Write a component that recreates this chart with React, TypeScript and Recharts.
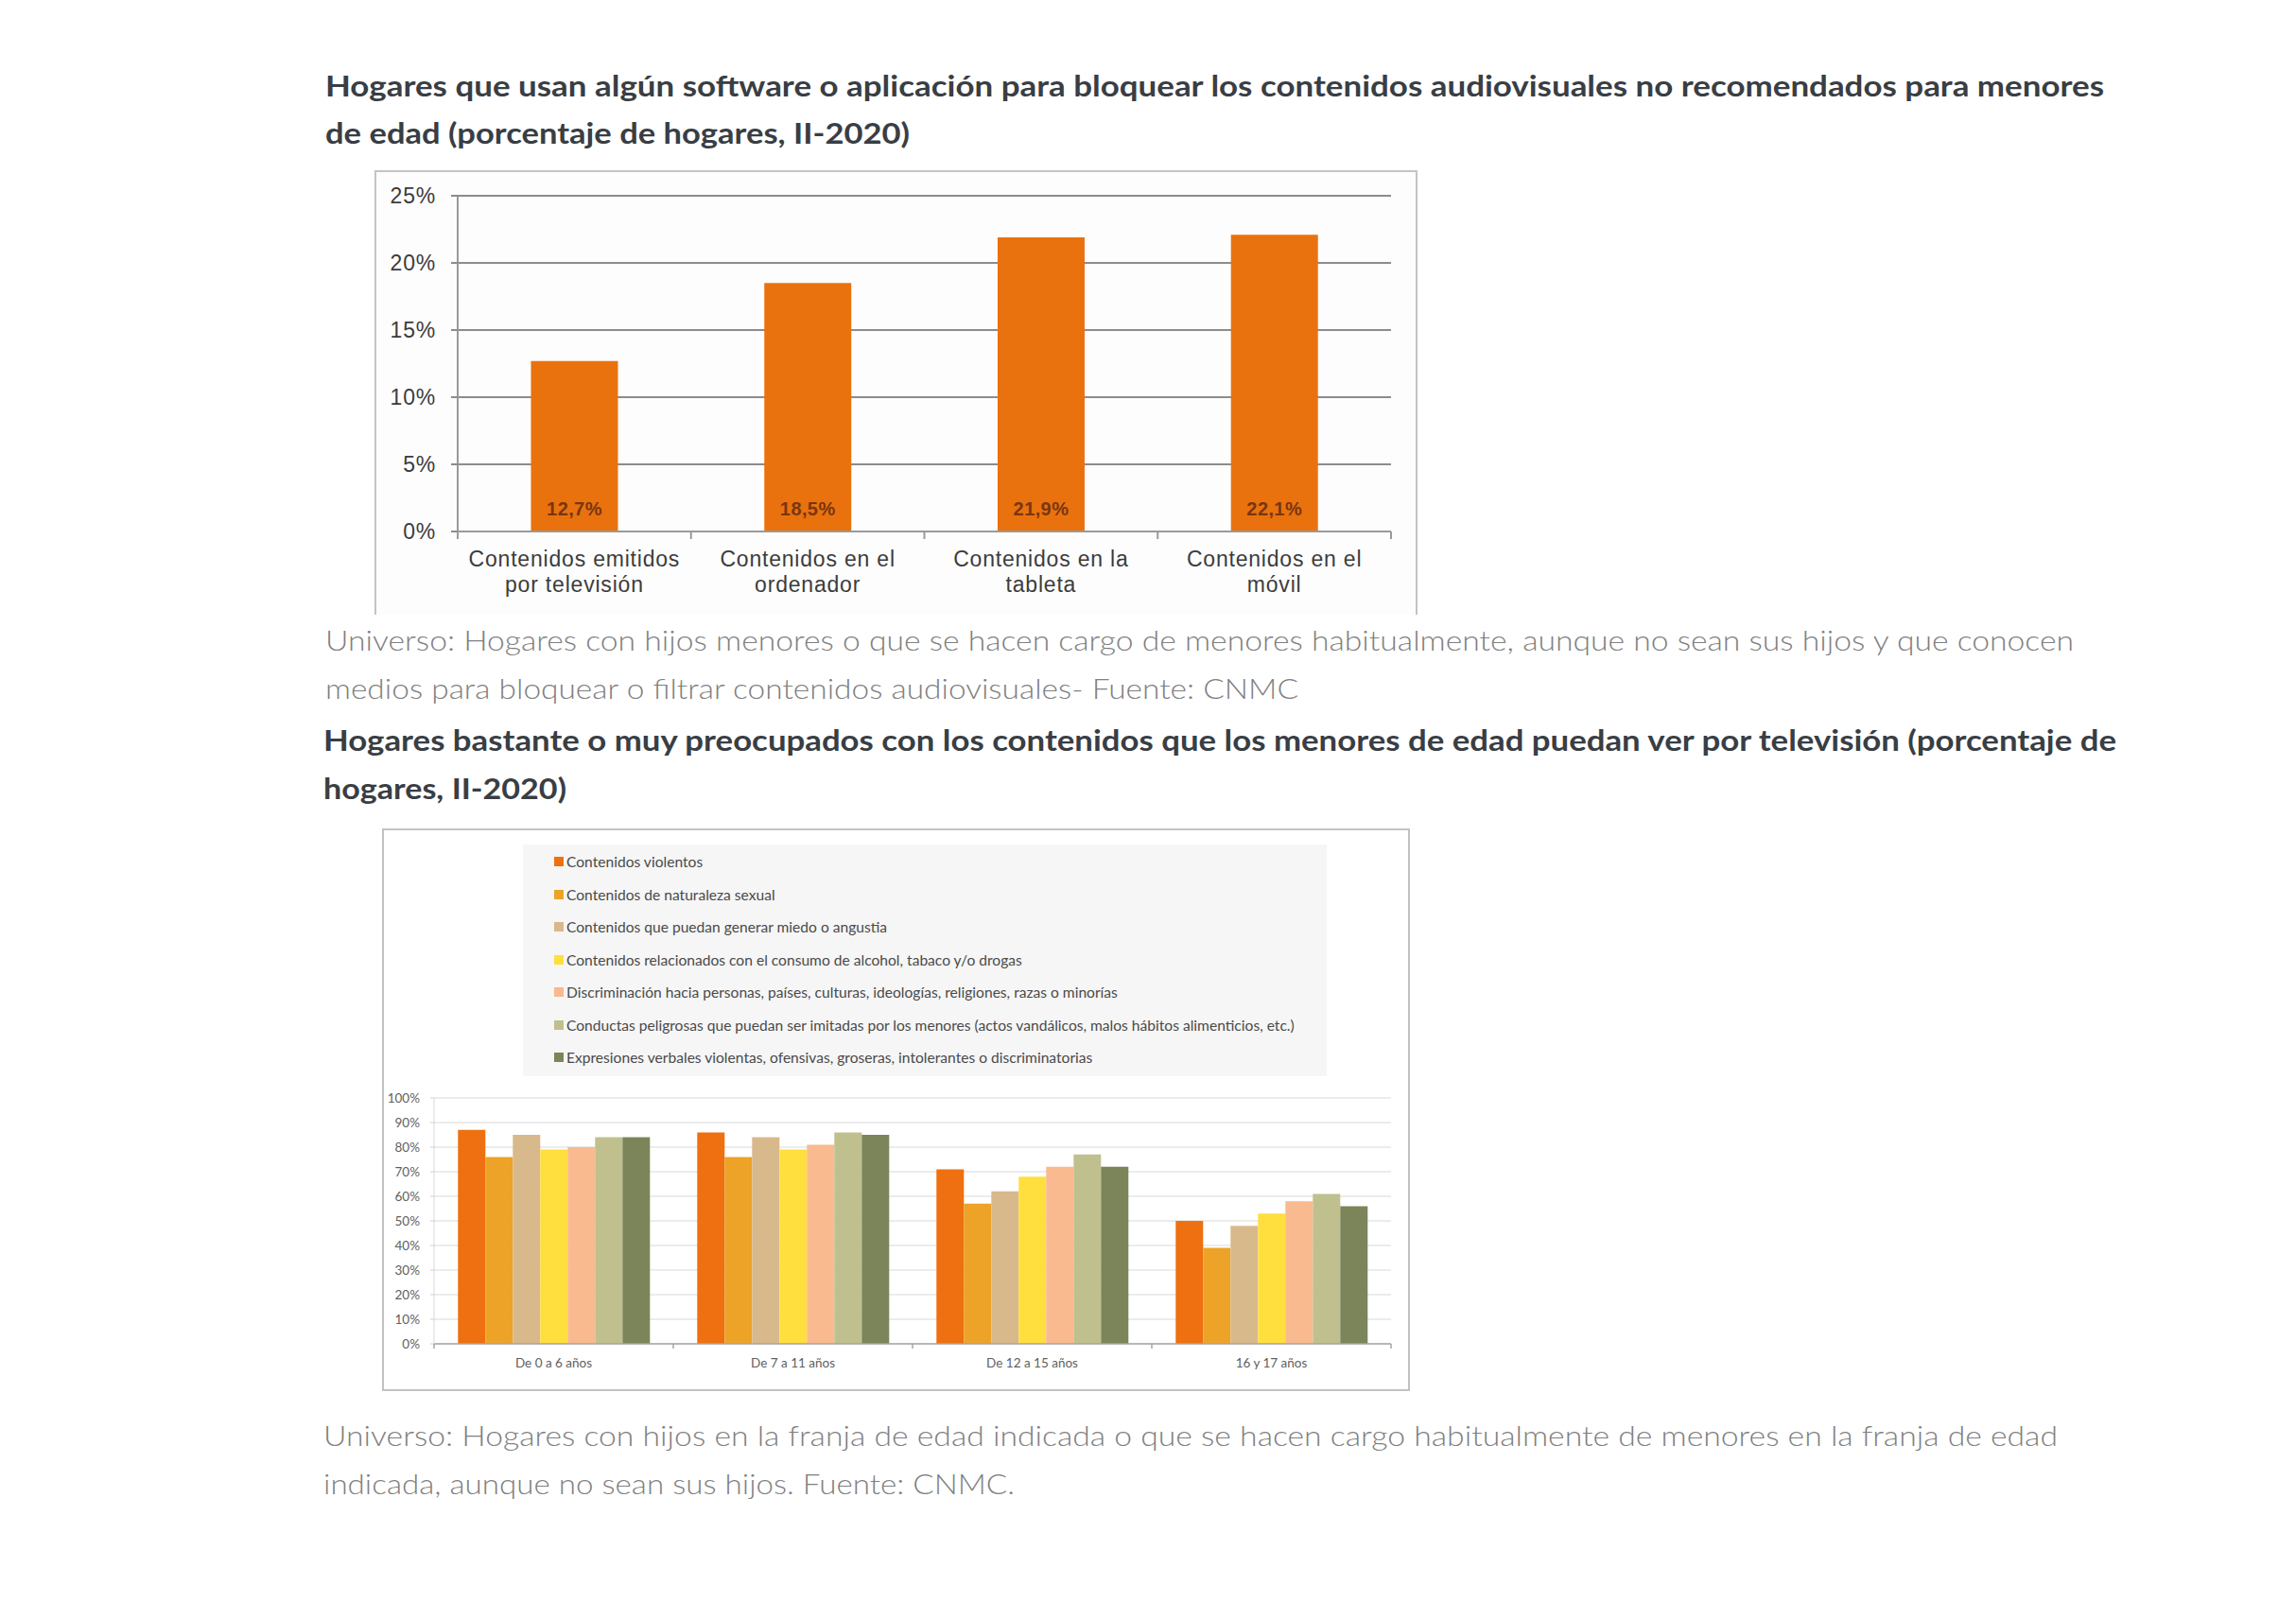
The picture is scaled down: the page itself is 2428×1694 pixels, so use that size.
import React from 'react';
import { BarChart, Bar, XAxis, YAxis, CartesianGrid, LabelList } from 'recharts';

// ---------- Page texts ----------
const title1Lines = [
  'Hogares que usan algún software o aplicación para bloquear los contenidos audiovisuales no recomendados para menores',
  'de edad (porcentaje de hogares, II-2020)',
];
const caption1Lines = [
  'Universo: Hogares con hijos menores o que se hacen cargo de menores habitualmente, aunque no sean sus hijos y que conocen',
  'medios para bloquear o filtrar contenidos audiovisuales- Fuente: CNMC',
];
const title2Lines = [
  'Hogares bastante o muy preocupados con los contenidos que los menores de edad puedan ver por televisión (porcentaje de',
  'hogares, II-2020)',
];
const caption2Lines = [
  'Universo: Hogares con hijos en la franja de edad indicada o que se hacen cargo habitualmente de menores en la franja de edad',
  'indicada, aunque no sean sus hijos. Fuente: CNMC.',
];

// ---------- Chart 1 data ----------
const deviceCategories = [
  'Contenidos emitidos por televisión',
  'Contenidos en el ordenador',
  'Contenidos en la tableta',
  'Contenidos en el móvil',
];
const deviceLabelLines = [
  ['Contenidos emitidos', 'por televisión'],
  ['Contenidos en el', 'ordenador'],
  ['Contenidos en la', 'tableta'],
  ['Contenidos en el', 'móvil'],
];
const blockingValues = [12.7, 18.5, 21.9, 22.1];
const blockingTicks = [0, 5, 10, 15, 20, 25];

// ---------- Chart 2 data ----------
const ageGroups = ['De 0 a 6 años', 'De 7 a 11 años', 'De 12 a 15 años', '16 y 17 años'];
const concernNames = [
  'Contenidos violentos',
  'Contenidos de naturaleza sexual',
  'Contenidos que puedan generar miedo o angustia',
  'Contenidos relacionados con el consumo de alcohol, tabaco y/o drogas',
  'Discriminación hacia personas, países, culturas, ideologías, religiones, razas o minorías',
  'Conductas peligrosas que puedan ser imitadas por los menores (actos vandálicos, malos hábitos alimenticios, etc.)',
  'Expresiones verbales violentas, ofensivas, groseras, intolerantes o discriminatorias',
];
const violentosValues = [87, 86, 71, 50];
const sexualValues = [76, 76, 57, 39];
const miedoValues = [85, 84, 62, 48];
const alcoholValues = [79, 79, 68, 53];
const discriminacionValues = [80, 81, 72, 58];
const conductasValues = [84, 86, 77, 61];
const expresionesValues = [84, 85, 72, 56];
const concernTicks = [0, 10, 20, 30, 40, 50, 60, 70, 80, 90, 100];
const concernColors = ['#EE7010', '#EDA328', '#D8B98C', '#FFDF3E', '#F8BA8E', '#C0C08E', '#7B8559'];

const concernSeries = [
  violentosValues,
  sexualValues,
  miedoValues,
  alcoholValues,
  discriminacionValues,
  conductasValues,
  expresionesValues,
];

const chart1Data = deviceCategories.map((c, i) => ({ category: c, value: blockingValues[i] }));
const chart2Data = ageGroups.map((g, i) => {
  const row: Record<string, any> = { group: g };
  concernSeries.forEach((s, k) => {
    row['s' + k] = s[i];
  });
  return row;
});

// ---------- layout constants ----------
const C1_W = 1103;
const C1_H = 470;
const C1_M = { top: 27, right: 28, left: 0, bottom: 0 };
const C1_YW = 88;
const C1_XH = 88;
const C1_HALF = (C1_W - C1_YW - C1_M.right) / deviceCategories.length / 2;

const C2_W = 1087;
const C2_H = 595;
const C2_M = { top: 285, right: 20, left: 0, bottom: 0 };
const C2_YW = 55;
const C2_XH = 50;
const C2_HALF = (C2_W - C2_YW - C2_M.right) / ageGroups.length / 2;

const ARIAL = 'Liberation Sans, Arial, sans-serif';
const LATO = 'Lato, Open Sans, sans-serif';

function Chart1Tick(props: any) {
  const { x, y, index } = props;
  const lines = deviceLabelLines[index] || [String(props.payload?.value ?? '')];
  return (
    <g>
      <line x1={x - C1_HALF} x2={x - C1_HALF} y1={y} y2={y + 8} stroke="#9a9a9a" strokeWidth={2} />
      {index === deviceLabelLines.length - 1 && (
        <line x1={x + C1_HALF} x2={x + C1_HALF} y1={y} y2={y + 8} stroke="#9a9a9a" strokeWidth={2} />
      )}
      <text textAnchor="middle" fill="#3c3c3c" fontSize={23} fontFamily={ARIAL} letterSpacing={0.8}>
        <tspan x={x} y={y + 37}>{lines[0]}</tspan>
        <tspan x={x} y={y + 64}>{lines[1]}</tspan>
      </text>
    </g>
  );
}

function Chart2Tick(props: any) {
  const { x, y, index, payload } = props;
  return (
    <g>
      <line x1={x - C2_HALF} x2={x - C2_HALF} y1={y} y2={y + 5} stroke="#a6a6a6" strokeWidth={1.5} />
      {index === ageGroups.length - 1 && (
        <line x1={x + C2_HALF} x2={x + C2_HALF} y1={y} y2={y + 5} stroke="#a6a6a6" strokeWidth={1.5} />
      )}
      <text x={x} y={y + 25} textAnchor="middle" fill="#5f5f5f" fontSize={13.5} fontFamily={LATO}>
        {payload?.value}
      </text>
    </g>
  );
}

function BarValueLabel(props: any) {
  const { x, y, width, height, value } = props;
  if (value == null) return null;
  const txt = `${Number(value).toFixed(1).replace('.', ',')}%`;
  return (
    <text
      x={Number(x) + Number(width) / 2}
      y={Number(y) + Number(height) - 17}
      textAnchor="middle"
      fill="#7a3510"
      fontSize={20}
      fontWeight="bold"
      fontFamily={ARIAL}
      letterSpacing={0.4}
    >
      {txt}
    </text>
  );
}

function PageText() {
  const T = (text: string, x: number, y: number, w: number, kind: 'title' | 'caption', key: string) => (
    <text
      key={key}
      x={x}
      y={y}
      textLength={w}
      lengthAdjust="spacingAndGlyphs"
      fontFamily={LATO}
      fontSize={30}
      fontWeight={kind === 'title' ? 700 : 300}
      fill={kind === 'title' ? '#393e44' : '#808080'}
    >
      {text}
    </text>
  );
  return (
    <svg
      width={2428}
      height={1694}
      style={{ position: 'absolute', left: 0, top: 0 }}
    >
      {T(title1Lines[0], 344, 102, 1881, 'title', 't1a')}
      {T(title1Lines[1], 344, 152, 618, 'title', 't1b')}
      {T(caption1Lines[0], 344, 688, 1849, 'caption', 'c1a')}
      {T(caption1Lines[1], 344, 739, 1029, 'caption', 'c1b')}
      {T(title2Lines[0], 342, 794, 1896, 'title', 't2a')}
      {T(title2Lines[1], 342, 845, 257, 'title', 't2b')}
      {T(caption2Lines[0], 342, 1529, 1834, 'caption', 'c2a')}
      {T(caption2Lines[1], 342, 1580, 731, 'caption', 'c2b')}
    </svg>
  );
}

function Chart1() {
  return (
    <div
      style={{
        position: 'absolute',
        left: 396,
        top: 180,
        width: C1_W,
        height: C1_H,
        boxSizing: 'border-box',
        borderLeft: '2px solid #c4c4c4',
        borderTop: '2px solid #c4c4c4',
        borderRight: '2px solid #c4c4c4',
        background: '#fdfdfd',
      }}
    >
      <div style={{ position: 'absolute', left: -2, top: -2 }}>
        <BarChart
          width={C1_W}
          height={C1_H}
          data={chart1Data}
          margin={C1_M}
          barCategoryGap="31.4%"
        >
          <CartesianGrid vertical={false} stroke="#8c8c8c" strokeWidth={2} />
          <XAxis
            dataKey="category"
            height={C1_XH}
            interval={0}
            tickLine={false}
            tickSize={0}
            tickMargin={0}
            axisLine={{ stroke: '#9a9a9a', strokeWidth: 2 }}
            tick={(p: any) => <Chart1Tick {...p} />}
          />
          <YAxis
            width={C1_YW}
            domain={[0, 25]}
            ticks={blockingTicks}
            interval={0}
            tickFormatter={(v: number) => `${v}%`}
            tickSize={7}
            tickMargin={16}
            axisLine={{ stroke: '#9a9a9a', strokeWidth: 2 }}
            tickLine={{ stroke: '#8c8c8c', strokeWidth: 2 }}
            tick={{ fill: '#3c3c3c', fontSize: 23, fontFamily: ARIAL, letterSpacing: 0.8 }}
          />
          <Bar dataKey="value" fill="#E9720E" isAnimationActive={false}>
            <LabelList dataKey="value" content={(p: any) => <BarValueLabel {...p} />} />
          </Bar>
        </BarChart>
      </div>
    </div>
  );
}

function Chart2Legend() {
  return (
    <div
      style={{
        position: 'absolute',
        left: 553,
        top: 893,
        width: 850,
        height: 245,
        background: '#f6f6f6',
      }}
    >
      {concernNames.map((name, i) => (
        <div
          key={name}
          style={{
            position: 'absolute',
            left: 33,
            top: 18 + i * 34.5 - 10,
            height: 20,
            display: 'flex',
            alignItems: 'center',
            whiteSpace: 'nowrap',
            fontFamily: LATO,
            fontSize: 15.6,
            color: '#4a4a4a',
          }}
        >
          <span
            style={{
              display: 'inline-block',
              width: 10,
              height: 10,
              background: concernColors[i],
              marginRight: 3,
            }}
          />
          <span>{name}</span>
        </div>
      ))}
    </div>
  );
}

function Chart2() {
  return (
    <>
      <div
        style={{
          position: 'absolute',
          left: 404,
          top: 876,
          width: C2_W,
          height: C2_H,
          boxSizing: 'border-box',
          border: '2px solid #c2c2c2',
          background: '#ffffff',
        }}
      >
        <div style={{ position: 'absolute', left: -2, top: -2 }}>
          <BarChart
            width={C2_W}
            height={C2_H}
            data={chart2Data}
            margin={C2_M}
            barCategoryGap="10%"
            barGap={0}
          >
            <CartesianGrid vertical={false} stroke="#e6e6e6" strokeWidth={1.5} />
            <XAxis
              dataKey="group"
              height={C2_XH}
              interval={0}
              tickLine={false}
              tickSize={0}
              tickMargin={0}
              axisLine={{ stroke: '#a6a6a6', strokeWidth: 1.5 }}
              tick={(p: any) => <Chart2Tick {...p} />}
            />
            <YAxis
              width={C2_YW}
              domain={[0, 100]}
              ticks={concernTicks}
              interval={0}
              tickFormatter={(v: number) => `${v}%`}
              tickSize={4}
              tickMargin={11}
              axisLine={{ stroke: '#d9d9d9', strokeWidth: 1 }}
              tickLine={{ stroke: '#d0d0d0', strokeWidth: 1 }}
              tick={{ fill: '#5f5f5f', fontSize: 13.5, fontFamily: LATO }}
            />
            {concernNames.map((name, k) => (
              <Bar
                key={name}
                dataKey={'s' + k}
                name={name}
                fill={concernColors[k]}
                isAnimationActive={false}
              />
            ))}
          </BarChart>
        </div>
      </div>
      <Chart2Legend />
    </>
  );
}

export default function App() {
  return (
    <div style={{ position: 'relative', width: 2412, height: 1678 }}>
      <div style={{ position: 'absolute', left: -8, top: -8, width: 2428, height: 1694, background: '#ffffff' }}>
        <PageText />
        <Chart1 />
        <Chart2 />
      </div>
    </div>
  );
}
